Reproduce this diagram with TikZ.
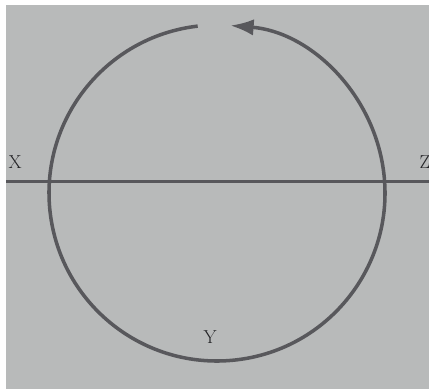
\documentclass[tikz,border=0pt]{standalone}
\usetikzlibrary{arrows.meta}

\definecolor{paper}{RGB}{184,186,186}
\definecolor{ink}{RGB}{88,88,92}
\definecolor{letter}{RGB}{35,35,38}

\begin{document}
\begin{tikzpicture}[
    x=0.03cm, y=0.03cm,
    >={Latex[length=20pt,width=14pt]},
    every node/.style={font=\fontsize{16}{19}\selectfont, text=letter, inner sep=0pt},
    cycleline/.style={ink, line width=3pt}
  ]

    % Background ---------------------------------------------------
    \fill[white] (0,0) rectangle (429,389);
    \fill[paper] (6,0) rectangle (429,384);
    \useasboundingbox (0,0) rectangle (429,389);

    % Horizontal line ----------------------------------------------
    \coordinate (left) at (6,207.5);
    \coordinate (right) at (429,207.5);
    \draw[cycleline] (left) -- (right);

    % Cycle with arrow ---------------------------------------------
    \coordinate (centre) at (217,196);
    \draw[cycleline,->] ([shift={(96.6:168)}]centre) arc (96.6:445.5:168);

    % Labels -------------------------------------------------------
    \node (X) at (15,227) {X};
    \node (Z) at (425,227) {Z};
    \node (Y) at (210,52) {Y};

  \end{tikzpicture}
\end{document}
